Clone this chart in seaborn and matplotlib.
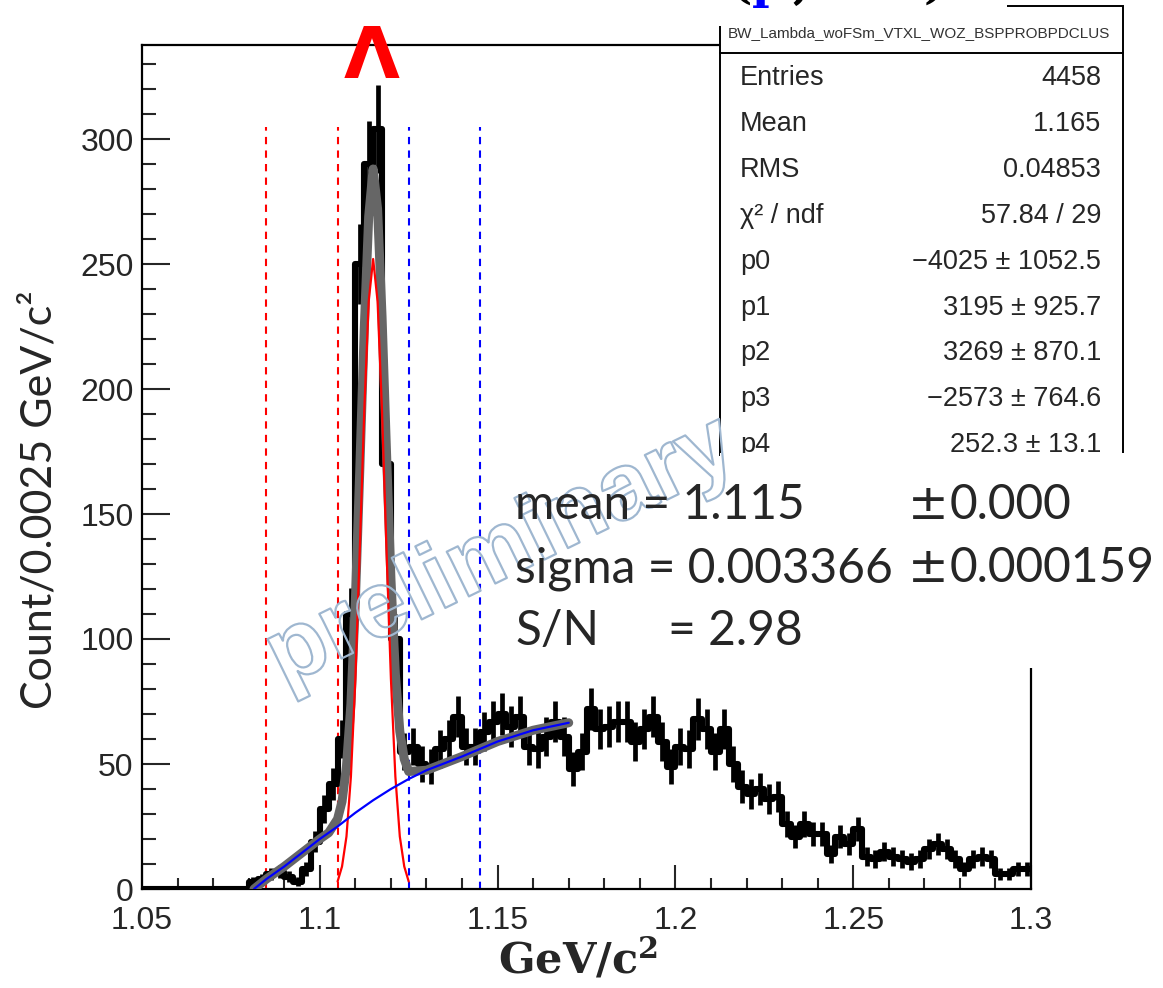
import numpy as np
import pandas as pd
import matplotlib
matplotlib.use("Agg")
import matplotlib.pyplot as plt
import matplotlib.patheffects as pe
import matplotlib.transforms as mtransforms
from matplotlib.patches import Rectangle
from matplotlib.lines import Line2D
from matplotlib.ticker import MultipleLocator
import seaborn as sns

# ----------------------------------------------------------
# data
# ----------------------------------------------------------
mass_lo, mass_hi, n_bins = 1.05, 1.30, 100

counts = [0, 0, 0, 0, 0, 0, 0, 0, 0, 0, 0, 0,
          3, 4, 6, 7, 5, 3, 8, 19, 32, 42, 60,
          110, 250, 290, 304, 170, 100, 55,
          57, 50, 49, 56, 60, 69, 57, 57, 63, 67,
          70, 65, 69, 57, 56, 61, 67, 61, 48, 55,
          72, 64, 65, 67, 67, 59, 64, 69, 59, 49,
          57, 56, 68, 64, 55, 64, 50,
          41, 38, 40, 36, 37, 26, 21, 26, 22, 22, 14, 21, 18,
          24, 13, 12, 15, 13, 12, 11, 12, 16, 18, 16, 12, 8, 12, 13, 12, 6, 6, 8, 8]

# background polynomial (blue)
bkg_x = [1.0815, 1.085, 1.09, 1.095, 1.10, 1.105, 1.11, 1.115, 1.12, 1.125,
         1.13, 1.14, 1.15, 1.16, 1.17]
bkg_y = [0, 4, 9, 14.5, 20, 25, 30.5, 35.5, 40, 44, 47.5, 53, 59, 63.5, 66.5]

# signal gaussian (red)
sig_x = [1.105, 1.10625, 1.1075, 1.10875, 1.11, 1.11125, 1.1125, 1.11375, 1.115,
         1.11625, 1.1175, 1.11875, 1.12, 1.12125, 1.1225, 1.12375, 1.125]
sig_y = [3, 9, 21, 45, 84, 136, 191, 235, 252, 235, 191, 136, 84, 45, 21, 9, 3]

# total fit (gray)
tot_x = [1.0815, 1.085, 1.09, 1.095, 1.10, 1.1025] + sig_x + [1.13, 1.14, 1.15, 1.16, 1.17]
tot_y = [0, 4, 9, 14.5, 20, 22.5,
         28, 35, 49, 74, 115, 168, 224, 269, 288, 272, 229, 175, 124, 86, 63, 52, 47,
         47.5, 53, 59, 63.5, 66.5]

# side band / signal window markers
red_cuts = [1.085, 1.105]
blue_cuts = [1.125, 1.145]
cut_top = 305

stat_names = ["Entries", "Mean", "RMS", "χ² / ndf", "p0", "p1", "p2", "p3", "p4"]
stat_vals = ["4458", "1.165", "0.04853", "57.84 / 29", "−4025 ± 1052.5",
             "3195 ± 925.7", "3269 ± 870.1", "−2573 ± 764.6", "252.3 ± 13.1"]

fit_names = ["mean = 1.115", "sigma = 0.003366", "S/N"]
fit_errs = ["0.000", "0.000159", None]
sn_value = "= 2.98"

xtick_vals = [1.05, 1.10, 1.15, 1.20, 1.25, 1.30]
xtick_labels = ["1.05", "1.1", "1.15", "1.2", "1.25", "1.3"]
ytick_vals = [0, 50, 100, 150, 200, 250, 300]

# ----------------------------------------------------------
# style
# ----------------------------------------------------------
sns.set_style("ticks")
plt.rcParams["font.family"] = ["Liberation Sans", "DejaVu Sans"]
plt.rcParams["mathtext.fontset"] = "dejavuserif"

W, H = 1163, 988
fig = plt.figure(figsize=(W / 100, H / 100), dpi=100)
fig.patch.set_facecolor("white")
# pixel coords, origin top-left
px = mtransforms.Affine2D().scale(1 / W, -1 / H).translate(0, 1) + fig.transFigure

ax = fig.add_axes([142 / W, 1 - 889 / H, (1031 - 142) / W, (889 - 45) / H])

edges = np.linspace(mass_lo, mass_hi, n_bins + 1)
centers = 0.5 * (edges[:-1] + edges[1:])
df = pd.DataFrame({"mass": centers, "count": counts})

# histogram steps + error bars
sns.histplot(data=df, x="mass", weights="count", bins=edges.tolist(), element="step",
             fill=False, color="black", linewidth=4.4, ax=ax, zorder=3)
nz = df[df["count"] > 0]
ax.errorbar(nz["mass"], nz["count"], yerr=np.sqrt(nz["count"]), fmt="none",
            ecolor="black", elinewidth=3.4, capsize=0, zorder=3)

# fit curves
sns.lineplot(x=tot_x, y=tot_y, color="#666666", linewidth=6.5, sort=False, ax=ax, zorder=4)
sns.lineplot(x=sig_x, y=sig_y, color="red", linewidth=1.6, sort=False, ax=ax, zorder=5)
sns.lineplot(x=bkg_x, y=bkg_y, color="blue", linewidth=1.6, sort=False, ax=ax, zorder=5)

# sideband lines
ax.vlines(red_cuts, 0, cut_top, colors="red", linestyles=(0, (3.5, 3)), linewidth=1.5, zorder=2)
ax.vlines(blue_cuts, 0, cut_top, colors="blue", linestyles=(0, (3.5, 3)), linewidth=1.5, zorder=2)

ax.set_xlim(mass_lo, mass_hi)
ax.set_ylim(0, 337.6)
ax.set_xlabel("")
ax.set_ylabel("")
ax.set_xticks(xtick_vals)
ax.set_xticklabels(xtick_labels)
ax.set_yticks(ytick_vals)
ax.set_yticklabels([str(v) for v in ytick_vals])
ax.xaxis.set_minor_locator(MultipleLocator(0.01))
ax.yaxis.set_minor_locator(MultipleLocator(10))
ax.tick_params(axis="x", which="major", direction="in", length=17, width=1.5, pad=12.5, labelsize=23)
ax.tick_params(axis="x", which="minor", direction="in", length=8, width=1.5)
ax.tick_params(axis="y", which="major", direction="in", length=20, width=1.5, pad=6, labelsize=23)
ax.tick_params(axis="y", which="minor", direction="in", length=10, width=1.5)
for s in ax.spines.values():
    s.set_linewidth(1.6)
    s.set_color("black")

# axis titles
fig.text(40, 500, "Count/0.0025 GeV/c²", transform=px, rotation=90, ha="center",
         va="center", fontsize=31, family=["Lato", "DejaVu Sans"])
fig.text(578, 960, r"$\mathbf{GeV/c^{2}}$", transform=px, ha="center", va="center", fontsize=31)
fig.text(372, 78, "Λ", transform=px, color="red", fontsize=52, weight="bold",
         ha="center", va="baseline", family="DejaVu Sans")

# cut-off slide title at the top edge
for xx, ch, col in [(741, "(", "black"), (768, "p", "blue"), (801, ",", "black"), (935, ")", "black")]:
    fig.text(xx, -2, ch, transform=px, color=col, fontsize=34, weight="bold",
             family="DejaVu Serif", ha="center", va="baseline")

# stats box
fig.add_artist(Rectangle((720, 6), 403, 449, transform=px, facecolor="white",
                         edgecolor="black", linewidth=1.4, zorder=2))
fig.add_artist(Rectangle((688, -2), 319, 28, transform=px, facecolor="white",
                         edgecolor="none", zorder=2.1))
fig.add_artist(Line2D([720, 1123], [53, 53], transform=px, color="black", linewidth=1.4, zorder=2.2))
fig.text(919, 33, "BW_Lambda_woFSm_VTXL_WOZ_BSPPROBPDCLUS", transform=px, ha="center",
         va="center", fontsize=11, color="#333333", zorder=2.3)
for i, (nm, vv) in enumerate(zip(stat_names, stat_vals)):
    yy = 78 + 45.9 * i
    fig.text(740, yy, nm, transform=px, ha="left", va="center", fontsize=19.5, zorder=2.3)
    fig.text(1101, yy, vv, transform=px, ha="right", va="center", fontsize=19.5, zorder=2.3)

# white patch covering lower right part
fig.add_artist(Rectangle((720, 453), 443, 215, transform=px, facecolor="white",
                         edgecolor="none", zorder=2.4))

# watermark
fig.text(502, 553, "preliminary", transform=px, rotation=26, ha="center", va="center",
         fontsize=68, weight="bold", color="none", zorder=2.6,
         path_effects=[pe.Stroke(linewidth=1.6, foreground="#9fb7d0")])

# fit results
lat = ["Lato", "DejaVu Sans"]
for i, (nm, er) in enumerate(zip(fit_names, fit_errs)):
    yb = 519 + 63 * i
    fig.text(515, yb, nm, transform=px, fontsize=34.5, family=lat, va="baseline", zorder=3)
    if er is not None:
        fig.text(908, yb, "±", transform=px, fontsize=35, family="DejaVu Sans",
                 va="baseline", zorder=3)
        fig.text(950, yb, er, transform=px, fontsize=34.5, family=lat, va="baseline", zorder=3)
fig.text(668, 519 + 63 * 2, sn_value, transform=px, fontsize=34.5, family=lat, va="baseline", zorder=3)

fig.savefig("out.png", dpi=100)
